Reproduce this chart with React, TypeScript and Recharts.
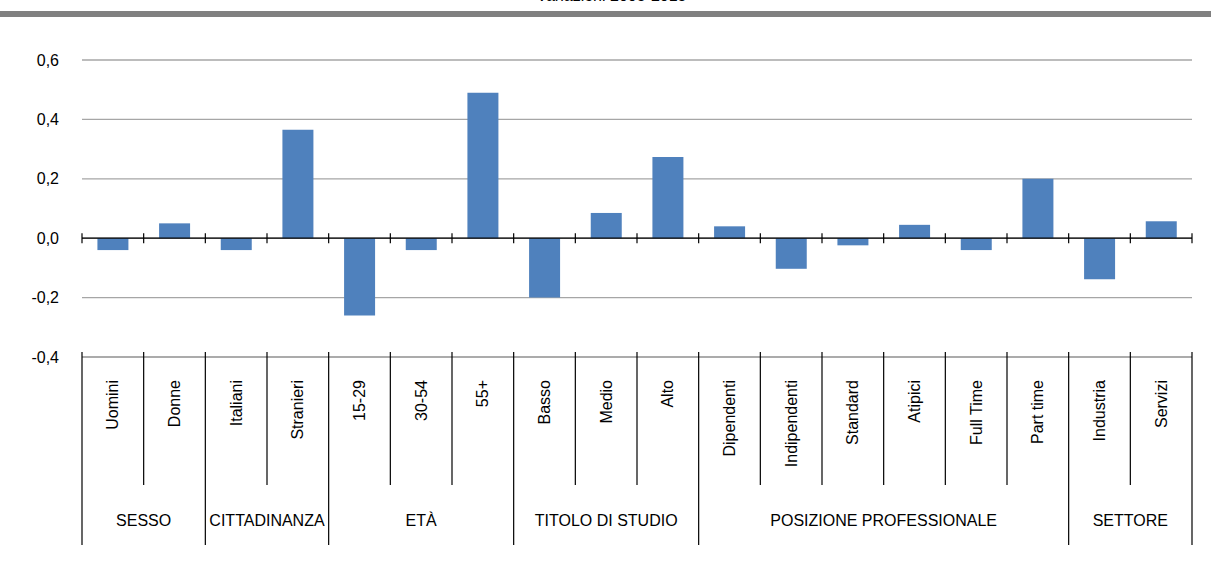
import { BarChart, Bar, XAxis, YAxis, CartesianGrid, ReferenceLine } from 'recharts';

const categories = [
  'Uomini', 'Donne', 'Italiani', 'Stranieri', '15-29', '30-54', '55+',
  'Basso', 'Medio', 'Alto', 'Dipendenti', 'Indipendenti', 'Standard', 'Atipici',
  'Full Time', 'Part time', 'Industria', 'Servizi',
];
const variazioni = [
  -0.04, 0.05, -0.04, 0.365, -0.26, -0.04, 0.49,
  -0.2, 0.085, 0.273, 0.04, -0.103, -0.024, 0.045,
  -0.04, 0.2, -0.138, 0.057,
];
const groupNames = ['SESSO', 'CITTADINANZA', 'ETÀ', 'TITOLO DI STUDIO', 'POSIZIONE PROFESSIONALE', 'SETTORE'];
const groupSizes = [2, 2, 3, 3, 6, 2];
const yTicks = [-0.4, -0.2, 0, 0.2, 0.4, 0.6];
const titolo = 'Variazioni 2005-2015';

const data = categories.map((name, i) => ({ name, value: variazioni[i] }));

// layout
const W = 1211;
const H = 578;
const LEFT = 82;
const RIGHT = 19;
const TOP = 60;
const AXIS_H = 221;
const PLOT_W = W - LEFT - RIGHT;
const PLOT_H = H - TOP - AXIS_H;
const BAND = PLOT_W / categories.length;
const Y_MIN = -0.4;
const Y_MAX = 0.6;
const ZERO_Y = TOP + (PLOT_H * Y_MAX) / (Y_MAX - Y_MIN);
const FONT = '"Liberation Sans", Arial, sans-serif';

const groupStarts: number[] = [];
groupSizes.reduce((acc, s) => {
  groupStarts.push(acc);
  return acc + s;
}, 0);

function CategoryTick(props: any) {
  const { x, y, payload } = props;
  const i = payload.index;
  const left = x - BAND / 2;
  const isGroupStart = groupStarts.includes(i);
  const g = groupStarts.indexOf(i);
  const last = i === categories.length - 1;
  return (
    <g>
      {/* small ticks on the zero line */}
      <line x1={left} x2={left} y1={ZERO_Y - 5} y2={ZERO_Y + 5} stroke="#000" strokeWidth={1.2} />
      {last && <line x1={left + BAND} x2={left + BAND} y1={ZERO_Y - 5} y2={ZERO_Y + 5} stroke="#000" strokeWidth={1.2} />}
      <line x1={left} x2={left} y1={y - 5} y2={isGroupStart ? y + 188 : y + 128} stroke="#000" strokeWidth={1.2} />
      {last && <line x1={left + BAND} x2={left + BAND} y1={y - 5} y2={y + 188} stroke="#000" strokeWidth={1.2} />}
      <text
        x={x}
        y={y + 23}
        transform={`rotate(-90 ${x} ${y + 23})`}
        textAnchor="end"
        dominantBaseline="central"
        fontFamily={FONT}
        fontSize={16}
        fill="#000"
      >
        {payload.value}
      </text>
      {g >= 0 && (
        <text
          x={left + (groupSizes[g] * BAND) / 2}
          y={y + 163}
          textAnchor="middle"
          dominantBaseline="central"
          fontFamily={FONT}
          fontSize={16}
          fill="#000"
        >
          {groupNames[g]}
        </text>
      )}
    </g>
  );
}

export default function App() {
  return (
    <div style={{ position: 'absolute', left: 0, top: 0, width: W, height: H, background: '#fff', overflow: 'hidden' }}>
      <div
        style={{
          position: 'absolute',
          left: 0,
          width: W,
          top: -14,
          textAlign: 'center',
          fontFamily: FONT,
          fontSize: 16,
          lineHeight: '20px',
          paddingLeft: 12,
          boxSizing: 'border-box',
        }}
      >
        {titolo}
      </div>
      <div style={{ position: 'absolute', left: 0, top: 11, width: W, height: 6, background: '#808080' }} />
      <BarChart
        width={W}
        height={H}
        data={data}
        margin={{ top: TOP, right: RIGHT, left: 0, bottom: 0 }}
        barCategoryGap="25%"
      >
        <CartesianGrid vertical={false} stroke="#a6a6a6" strokeWidth={1.3} />
        <YAxis
          width={LEFT}
          domain={[Y_MIN, Y_MAX]}
          ticks={yTicks}
          tickFormatter={(v: number) => v.toFixed(1).replace('.', ',')}
          axisLine={false}
          tickLine={false}
          tickSize={0}
          tickMargin={23}
          tick={{ fill: '#000', fontSize: 16, fontFamily: FONT }}
        />
        <XAxis
          dataKey="name"
          height={AXIS_H}
          interval={0}
          axisLine={{ stroke: '#a6a6a6', strokeWidth: 1.3 }}
          tickLine={false}
          tickSize={0}
          tickMargin={0}
          tick={<CategoryTick />}
        />
        <ReferenceLine y={0} stroke="#000" strokeWidth={1.3} />
        <Bar dataKey="value" fill="#4F81BD" isAnimationActive={false} />
      </BarChart>
    </div>
  );
}
